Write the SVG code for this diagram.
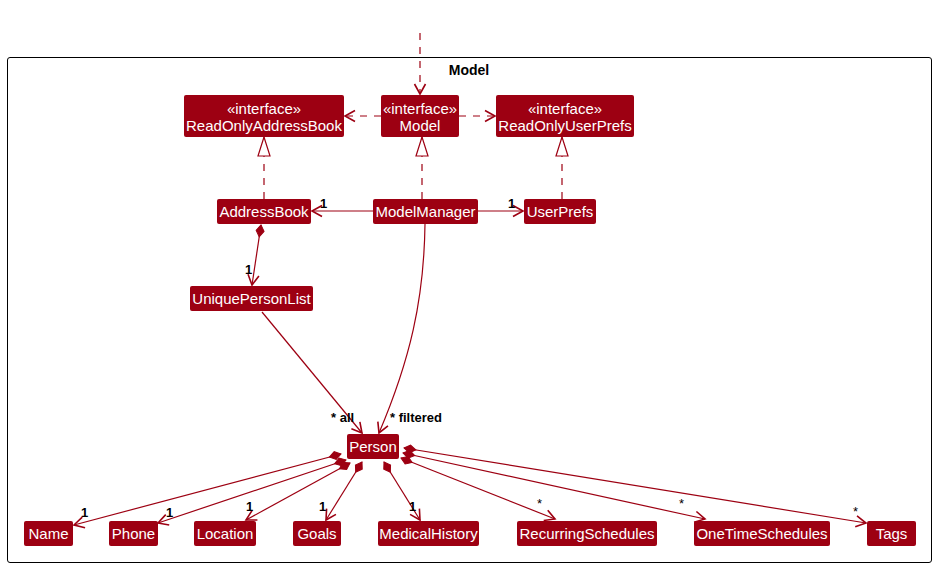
<svg xmlns="http://www.w3.org/2000/svg" width="937" height="568" viewBox="0 0 937 568">
<style>
.n{fill:#9D0012;stroke:none}
.t{fill:#fff;font-family:"Liberation Sans",Arial,sans-serif;font-size:15px;text-anchor:middle}
.e{fill:none;stroke:#9D0012;stroke-width:1.2}
.d{stroke-dasharray:7,7}
.l{fill:#000;font-family:"Liberation Sans",Arial,sans-serif;font-size:13px;font-weight:bold}
.s{fill:#000;font-family:"Liberation Sans",Arial,sans-serif;font-size:13px}
</style>
<defs>
<marker id="arr" markerUnits="userSpaceOnUse" markerWidth="14" markerHeight="14" viewBox="-12 -7 14 14" refX="0" refY="0" orient="auto" overflow="visible">
<path d="M-10,-5.5 L0,0 L-10,5.5" fill="none" stroke="#9D0012" stroke-width="1.6" stroke-dasharray="none" stroke-linejoin="miter"/>
</marker>
<marker id="tri" markerUnits="userSpaceOnUse" markerWidth="22" markerHeight="16" viewBox="-20 -8 22 16" refX="0" refY="0" orient="auto" overflow="visible">
<path d="M0,0 L-19,-6 L-19,6 Z" fill="#fff" stroke="#9D0012" stroke-width="1.2" stroke-dasharray="none"/>
</marker>
<marker id="dia" markerUnits="userSpaceOnUse" markerWidth="16" markerHeight="12" viewBox="0 -6 16 12" refX="0" refY="0" orient="auto" overflow="visible">
<path d="M0,0 L6,-4 L12,0 L6,4 Z" fill="#9D0012" stroke="#9D0012" stroke-width="1"/>
</marker>
</defs>
<rect x="7.5" y="57.5" width="924" height="505" rx="2.5" fill="none" stroke="#000" stroke-width="1"/>
<text x="469" y="75" font-family="'Liberation Sans',Arial,sans-serif" font-size="14" font-weight="bold" text-anchor="middle">Model</text>
<g id="connectors">
<path class="e d" d="M420,33 L420,94" marker-end="url(#arr)"/>
<path class="e d" d="M381,116 L345,116" marker-end="url(#arr)"/>
<path class="e d" d="M459,116 L495,116" marker-end="url(#arr)"/>
<path class="e d" d="M264,199 L264,137" marker-end="url(#tri)"/>
<path class="e d" d="M422,199 L422,137" marker-end="url(#tri)"/>
<path class="e d" d="M562,199 L562,137" marker-end="url(#tri)"/>
<path class="e" d="M373,211 L312,211" marker-end="url(#arr)"/>
<path class="e" d="M478,211 L523,211" marker-end="url(#arr)"/>
<path class="e" d="M261,225 L252,285" marker-start="url(#dia)" marker-end="url(#arr)"/>
<path class="e" d="M262,312 L362,433" marker-end="url(#arr)"/>
<path class="e" d="M425,224 C424,300 410,360 379,433" marker-end="url(#arr)"/>
<path class="e" d="M341,454 L74,525" marker-start="url(#dia)" marker-end="url(#arr)"/>
<path class="e" d="M346,460 L158,523" marker-start="url(#dia)" marker-end="url(#arr)"/>
<path class="e" d="M350,463 L246,520" marker-start="url(#dia)" marker-end="url(#arr)"/>
<path class="e" d="M362,462 L326,520" marker-start="url(#dia)" marker-end="url(#arr)"/>
<path class="e" d="M384,462 L420,520" marker-start="url(#dia)" marker-end="url(#arr)"/>
<path class="e" d="M401,458 L555,519" marker-start="url(#dia)" marker-end="url(#arr)"/>
<path class="e" d="M403,453 L705,519" marker-start="url(#dia)" marker-end="url(#arr)"/>
<path class="e" d="M404,448 L866,523" marker-start="url(#dia)" marker-end="url(#arr)"/>
<text class="l" x="320" y="208">1</text>
<text class="l" x="508" y="208">1</text>
<text class="l" x="245" y="274">1</text>
<text class="l" x="331" y="422">* all</text>
<text class="l" x="390" y="422">* filtered</text>
<text class="l" x="81" y="517">1</text>
<text class="l" x="166" y="517">1</text>
<text class="l" x="246" y="511">1</text>
<text class="l" x="319" y="511">1</text>
<text class="l" x="409" y="511">1</text>
<text class="s" x="537" y="508">*</text>
<text class="s" x="679" y="508">*</text>
<text class="s" x="853" y="516">*</text>
</g>
<g id="ReadOnlyAddressBook"><rect class="n" x="184" y="95" width="160" height="42" rx="2"/><text class="t" x="264" y="114">«interface»</text><text class="t" x="264" y="131">ReadOnlyAddressBook</text></g>
<g id="ModelInterface"><rect class="n" x="381" y="95" width="78" height="42" rx="2"/><text class="t" x="420" y="114">«interface»</text><text class="t" x="420" y="131">Model</text></g>
<g id="ReadOnlyUserPrefs"><rect class="n" x="496" y="95" width="138" height="42" rx="2"/><text class="t" x="565" y="114">«interface»</text><text class="t" x="565" y="131">ReadOnlyUserPrefs</text></g>
<g id="AddressBook"><rect class="n" x="217" y="199" width="94" height="25" rx="2"/><text class="t" x="264" y="217">AddressBook</text></g>
<g id="ModelManager"><rect class="n" x="373" y="199" width="105" height="25" rx="2"/><text class="t" x="425.5" y="217">ModelManager</text></g>
<g id="UserPrefs"><rect class="n" x="524" y="199" width="72" height="25" rx="2"/><text class="t" x="560" y="217">UserPrefs</text></g>
<g id="UniquePersonList"><rect class="n" x="190" y="286" width="123" height="25" rx="2"/><text class="t" x="251.5" y="304">UniquePersonList</text></g>
<g id="Person"><rect class="n" x="347" y="434" width="52" height="25" rx="2"/><text class="t" x="373" y="452">Person</text></g>
<g id="Name"><rect class="n" x="24" y="521" width="49" height="25" rx="2"/><text class="t" x="48.5" y="539">Name</text></g>
<g id="Phone"><rect class="n" x="109" y="521" width="49" height="25" rx="2"/><text class="t" x="133.5" y="539">Phone</text></g>
<g id="Location"><rect class="n" x="194" y="521" width="62" height="25" rx="2"/><text class="t" x="225" y="539">Location</text></g>
<g id="Goals"><rect class="n" x="293" y="521" width="48" height="25" rx="2"/><text class="t" x="317" y="539">Goals</text></g>
<g id="MedicalHistory"><rect class="n" x="378" y="521" width="101" height="25" rx="2"/><text class="t" x="428.5" y="539">MedicalHistory</text></g>
<g id="RecurringSchedules"><rect class="n" x="517" y="521" width="140" height="25" rx="2"/><text class="t" x="587" y="539">RecurringSchedules</text></g>
<g id="OneTimeSchedules"><rect class="n" x="694" y="521" width="136" height="25" rx="2"/><text class="t" x="762" y="539">OneTimeSchedules</text></g>
<g id="Tags"><rect class="n" x="867" y="521" width="49" height="25" rx="2"/><text class="t" x="891.5" y="539">Tags</text></g>
</svg>
